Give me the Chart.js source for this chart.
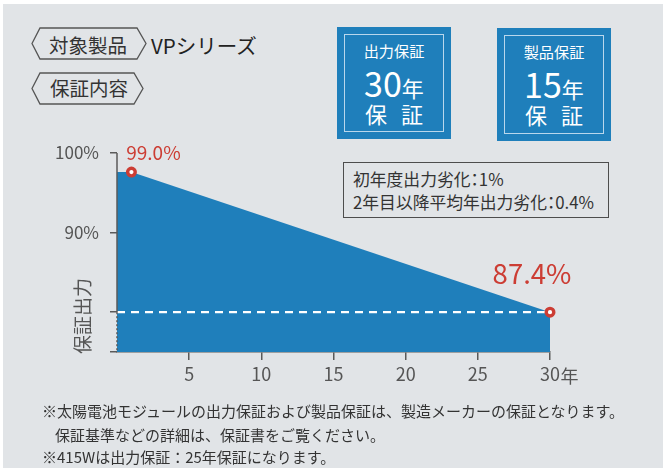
<!DOCTYPE html>
<html lang="ja">
<head>
<meta charset="utf-8">
<title>出力保証</title>
<script src="https://cdn.jsdelivr.net/npm/chart.js@4/dist/chart.umd.min.js"></script>
<style>
  html, body { margin: 0; padding: 0; background: #fff; }
  body { font-family: 'Noto Sans CJK JP', 'Noto Sans', sans-serif; color: #333; }
  #wrap { position: relative; width: 663px; height: 468px; overflow: hidden; }
  #panel { position: absolute; left: 3px; top: 4px; right: 0; bottom: 0; background: #e1e4e7; }
  .t { position: absolute; white-space: nowrap; }
  .box { position: absolute; background: #1f7fbb; color: #fff; text-align: center; }
  .box .inner { position: absolute; left: 7px; top: 7px; right: 7px; bottom: 7px; border: 1.5px solid #b9d7ec; }
  .box .t { left: 0; right: 0; }
  .note { position: absolute; left: 343px; top: 162px; width: 264px; height: 54px; border: 1.3px solid #4d4d4d;
          font-size: 16.8px; color: #333; font-feature-settings: "palt"; }
  .foot { font-size: 15px; line-height: 20px; }
  canvas { position: absolute; left: 0; top: 0; }
</style>
</head>
<body>
<div id="wrap">
  <div id="panel"></div>

  <svg width="663" height="120" style="position:absolute;left:0;top:0">
    <polygon points="32,43.5 40,28 137,28 146,43.5 137,59 40,59" fill="none" stroke="#555" stroke-width="1.3"/>
    <polygon points="32,88.5 40,73 134,73 143,88.5 134,104 40,104" fill="none" stroke="#555" stroke-width="1.3"/>
  </svg>
  <div class="t" style="left:49px;top:33px;font-size:19.5px;line-height:24px">対象製品</div>
  <div class="t" style="left:151px;top:32px;font-size:20.5px;line-height:26px;color:#222">VPシリーズ</div>
  <div class="t" style="left:50px;top:76px;font-size:19.5px;line-height:24px">保証内容</div>

  <div class="box" style="left:337px;top:27px;width:114px;height:112px">
    <div class="inner"></div>
    <div class="t" style="top:13px;font-size:15.2px;line-height:20px">出力保証</div>
    <div class="t" style="top:34px;line-height:44px"><span style="font-size:34px">30</span><span style="font-size:22px">年</span></div>
    <div class="t" style="top:72px;font-size:22px;line-height:28px;letter-spacing:14px;text-indent:14px">保証</div>
  </div>
  <div class="box" style="left:497px;top:28px;width:114px;height:113px">
    <div class="inner"></div>
    <div class="t" style="top:13px;font-size:15.2px;line-height:20px">製品保証</div>
    <div class="t" style="top:34px;line-height:44px"><span style="font-size:34px">15</span><span style="font-size:22px">年</span></div>
    <div class="t" style="top:72px;font-size:22px;line-height:28px;letter-spacing:14px;text-indent:14px">保証</div>
  </div>

  <div class="note">
    <div class="t" style="left:9px;top:5px;line-height:22px">初年度出力劣化：1%</div>
    <div class="t" style="left:9px;top:28px;line-height:22px">2年目以降平均年出力劣化：0.4%</div>
  </div>

  <canvas id="chart" width="663" height="468"></canvas>

  <div class="t foot" style="left:42px;top:401px">※太陽電池モジュールの出力保証および製品保証は、製造メーカーの保証となります。</div>
  <div class="t foot" style="left:55px;top:425px">保証基準などの詳細は、保証書をご覧ください。</div>
  <div class="t foot" style="left:42px;top:447px">※415Wは出力保証：25年保証になります。</div>
</div>

<script>
// data
const years = [0, 1, 30];
const guaranteedOutput = [99.0, 99.0, 87.4];
const markedYears = [1, 30];
const markedOutput = [99.0, 87.4];
const guaranteeLevel = 87.4;
const xTickYears = [5, 10, 15, 20, 25, 30];
const yTickValues = [75, 87.4, 90, 100];
const yTickText = ['', '', '90%', '100%'];
const xUnit = '年';
const yTitle = '保証出力';

// the original axis is schematic, not to scale: real value -> drawn level
const warpFrom = [75, 87.4, 90, 99.0, 100];
const warpTo = [75, 80, 90, 97.6, 100];

const FONT = "'Noto Sans CJK JP', 'Noto Sans', sans-serif";
const axisColor = '#5a5a5a';
const labelColor = '#555';
const blue = '#1f7fbb';
const red = '#cc3d34';

function warp(v) {
  for (let i = 1; i < warpFrom.length; i++) {
    if (v <= warpFrom[i]) {
      const t = (v - warpFrom[i - 1]) / (warpFrom[i] - warpFrom[i - 1]);
      return warpTo[i - 1] + t * (warpTo[i] - warpTo[i - 1]);
    }
  }
  return warpTo[warpTo.length - 1];
}

class SchematicScale extends Chart.LinearScale {
  getPixelForValue(value) {
    return super.getPixelForValue(warp(value));
  }
}
SchematicScale.id = 'schematic';
SchematicScale.defaults = Chart.LinearScale.defaults;
Chart.register(SchematicScale);

const overlay = {
  id: 'overlay',
  afterDraw(chart) {
    const { ctx, chartArea: a } = chart;
    const x = chart.scales.x, y = chart.scales.y;
    ctx.save();

    // y axis: solid down to the guarantee level, dotted below it
    const yg = y.getPixelForValue(guaranteeLevel);
    ctx.strokeStyle = axisColor;
    ctx.lineWidth = 1.5;
    ctx.beginPath();
    ctx.moveTo(a.left, a.top);
    ctx.lineTo(a.left, yg);
    ctx.stroke();
    ctx.setLineDash([2, 2]);
    ctx.beginPath();
    ctx.moveTo(a.left, yg);
    ctx.lineTo(a.left, a.bottom);
    ctx.stroke();
    ctx.setLineDash([]);

    // unit after the last x label
    ctx.font = '18px ' + FONT;
    ctx.fillStyle = labelColor;
    ctx.textBaseline = 'middle';
    ctx.textAlign = 'left';
    const last = xTickYears[xTickYears.length - 1];
    ctx.fillText(xUnit, x.getPixelForValue(last) + ctx.measureText(String(last)).width / 2 + 0.5, a.bottom + 24);

    // y title
    ctx.save();
    ctx.translate(a.left - 34, a.bottom - 36);
    ctx.rotate(-Math.PI / 2);
    ctx.textAlign = 'center';
    ctx.font = '19px ' + FONT;
    ctx.fillText(yTitle, 0, 0);
    ctx.restore();

    // value labels at the marked points
    const styles = [
      { size: 19, dx: 22, dy: -19 },
      { size: 27.5, dx: -18, dy: -39 }
    ];
    ctx.fillStyle = red;
    ctx.textAlign = 'center';
    markedOutput.forEach((v, i) => {
      const s = styles[i];
      ctx.font = s.size + 'px ' + FONT;
      ctx.fillText(v.toFixed(1) + '%',
        x.getPixelForValue(markedYears[i]) + s.dx,
        y.getPixelForValue(v) + s.dy);
    });
    ctx.restore();
  }
};

new Chart(document.getElementById('chart'), {
  type: 'line',
  data: {
    datasets: [
      {
        label: 'marks',
        data: markedYears.map((yr, i) => ({ x: yr, y: markedOutput[i] })),
        showLine: false,
        clip: false,
        pointRadius: 3.8,
        pointBorderWidth: 3.4,
        pointBorderColor: red,
        pointBackgroundColor: '#fff',
        order: 0
      },
      {
        label: 'guarantee',
        data: [
          { x: years[0], y: guaranteeLevel },
          { x: years[years.length - 1], y: guaranteeLevel }
        ],
        borderColor: '#fff',
        borderWidth: 2.2,
        borderDash: [8, 6],
        pointRadius: 0,
        fill: false,
        order: 1
      },
      {
        label: 'output',
        data: years.map((yr, i) => ({ x: yr, y: guaranteedOutput[i] })),
        borderWidth: 0,
        borderColor: 'rgba(0,0,0,0)',
        backgroundColor: blue,
        pointRadius: 0,
        fill: 'start',
        tension: 0,
        order: 2
      }
    ]
  },
  options: {
    responsive: false,
    devicePixelRatio: 1,
    animation: false,
    events: [],
    layout: { padding: { left: 0, top: 153, right: 113, bottom: 86 } },
    plugins: { legend: { display: false }, tooltip: { enabled: false } },
    scales: {
      x: {
        type: 'linear',
        min: 0,
        max: 30,
        afterBuildTicks: s => { s.ticks = xTickYears.map(v => ({ value: v })); },
        afterFit: s => { s.height = 30; },
        ticks: {
          color: labelColor,
          font: { family: FONT, size: 18 },
          padding: 3,
          maxRotation: 0,
          autoSkip: false,
          callback: v => String(v)
        },
        grid: { drawOnChartArea: false, drawTicks: true, tickLength: 8, color: axisColor, lineWidth: 1.5 },
        border: { display: true, color: axisColor, width: 1.5 }
      },
      y: {
        type: 'schematic',
        min: 75,
        max: 100,
        afterBuildTicks: s => { s.ticks = yTickValues.map(v => ({ value: v })); },
        afterFit: s => { s.width = 117; },
        ticks: {
          color: labelColor,
          font: { family: FONT, size: 17 },
          padding: 11,
          autoSkip: false,
          callback: v => yTickText[yTickValues.indexOf(v)] || ''
        },
        grid: { drawOnChartArea: false, drawTicks: true, tickLength: 7, color: axisColor, lineWidth: 1.5 },
        border: { display: false }
      }
    }
  },
  plugins: [overlay]
});
</script>
</body>
</html>
